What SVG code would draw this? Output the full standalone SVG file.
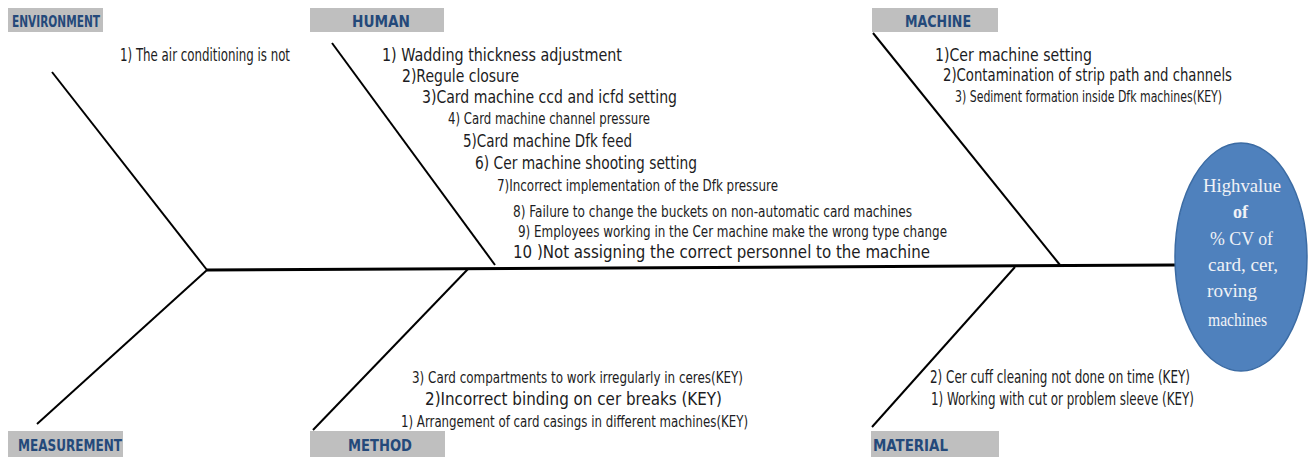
<svg xmlns="http://www.w3.org/2000/svg" width="1308" height="460" viewBox="0 0 1308 460">
<style>
.hdr{fill:#BFBFBF}
.ht{font-family:"DejaVu Sans Condensed","Liberation Sans",sans-serif;font-weight:bold;font-size:16px;fill:#24497A}
.t{font-family:"DejaVu Sans Condensed","Liberation Sans Narrow","Liberation Sans",sans-serif;fill:#1c1c22}
.bone{stroke:#000;stroke-width:2;fill:none}
.spine{stroke:#000;stroke-width:3;fill:none}
.et{font-family:"Liberation Serif","DejaVu Serif",serif;font-size:18px;fill:#F0F2F6}
</style>
<rect width="1308" height="460" fill="#fff"/>
<g id="connectors">
<path class="spine" d="M207 270 L1176 265"/>
<path class="bone" d="M52 72 L207 270"/>
<path class="bone" d="M37 424 L207 270"/>
<path class="bone" d="M332 43 L495 265"/>
<path class="bone" d="M313 430 L468 269"/>
<path class="bone" d="M873 33 L1060 265"/>
<path class="bone" d="M872 427 L1015 267"/>
</g>
<g id="environment">
<rect class="hdr" x="8" y="8" width="95" height="24"/>
<text class="ht" x="12" y="27" textLength="88" lengthAdjust="spacingAndGlyphs">ENVIRONMENT</text>
<text class="t" x="120" y="61" font-size="17" textLength="170" lengthAdjust="spacingAndGlyphs">1) The air conditioning is not</text>
</g>
<g id="human">
<rect class="hdr" x="310" y="8" width="134" height="24"/>
<text class="ht" x="352" y="27" textLength="58" lengthAdjust="spacingAndGlyphs">HUMAN</text>
<text class="t" x="382" y="61" font-size="18" textLength="240" lengthAdjust="spacingAndGlyphs">1) Wadding  thickness adjustment</text>
<text class="t" x="402" y="82" font-size="18" textLength="117" lengthAdjust="spacingAndGlyphs">2)Regule closure</text>
<text class="t" x="422" y="103" font-size="18" textLength="255" lengthAdjust="spacingAndGlyphs">3)Card machine ccd and icfd setting</text>
<text class="t" x="448" y="124" font-size="16" textLength="202" lengthAdjust="spacingAndGlyphs">4) Card machine channel pressure</text>
<text class="t" x="463" y="147" font-size="18" textLength="169" lengthAdjust="spacingAndGlyphs">5)Card machine Dfk feed</text>
<text class="t" x="475" y="169" font-size="18" textLength="222" lengthAdjust="spacingAndGlyphs">6) Cer machine shooting setting</text>
<text class="t" x="497" y="191" font-size="16" textLength="281" lengthAdjust="spacingAndGlyphs">7)Incorrect implementation  of the Dfk pressure</text>
<text class="t" x="513" y="217" font-size="16" textLength="399" lengthAdjust="spacingAndGlyphs">8) Failure to change the buckets  on non-automatic card machines</text>
<text class="t" x="518" y="237" font-size="16" textLength="429" lengthAdjust="spacingAndGlyphs">9)  Employees working in the Cer machine make the wrong type change</text>
<text class="t" x="513" y="258" font-size="18" textLength="417" lengthAdjust="spacingAndGlyphs">10 )Not assigning  the correct personnel to the machine</text>
</g>
<g id="machine">
<rect class="hdr" x="872" y="8" width="126" height="24"/>
<text class="ht" x="905" y="27" textLength="66" lengthAdjust="spacingAndGlyphs">MACHINE</text>
<text class="t" x="935" y="61" font-size="18" textLength="157" lengthAdjust="spacingAndGlyphs">1)Cer machine  setting</text>
<text class="t" x="943" y="81" font-size="17" textLength="289" lengthAdjust="spacingAndGlyphs">2)Contamination of strip path and channels</text>
<text class="t" x="955" y="102" font-size="15" textLength="267" lengthAdjust="spacingAndGlyphs">3) Sediment formation  inside Dfk machines(KEY)</text>
</g>
<g id="measurement">
<rect class="hdr" x="8" y="431" width="115" height="26"/>
<text class="ht" x="18" y="451" textLength="104" lengthAdjust="spacingAndGlyphs">MEASUREMENT</text>
</g>
<g id="method">
<rect class="hdr" x="310" y="431" width="135" height="26"/>
<text class="ht" x="348" y="451" textLength="64" lengthAdjust="spacingAndGlyphs">METHOD</text>
<text class="t" x="412" y="383" font-size="16" textLength="331" lengthAdjust="spacingAndGlyphs">3) Card compartments  to work irregularly in ceres(KEY)</text>
<text class="t" x="425" y="405" font-size="17" textLength="297" lengthAdjust="spacingAndGlyphs">2)Incorrect  binding  on cer breaks  (KEY)</text>
<text class="t" x="401" y="427" font-size="16" textLength="347" lengthAdjust="spacingAndGlyphs">1) Arrangement  of card casings in different machines(KEY)</text>
</g>
<g id="material">
<rect class="hdr" x="871" y="431" width="128" height="26"/>
<text class="ht" x="873" y="451" textLength="75" lengthAdjust="spacingAndGlyphs">MATERIAL</text>
<text class="t" x="930" y="383" font-size="17" textLength="260" lengthAdjust="spacingAndGlyphs">2) Cer cuff cleaning not done on time  (KEY)</text>
<text class="t" x="931" y="405" font-size="17" textLength="263" lengthAdjust="spacingAndGlyphs">1) Working with cut or problem sleeve  (KEY)</text>
</g>
<g id="effect">
<ellipse cx="1241" cy="257" rx="66" ry="114" fill="#4F81BD" stroke="#3B6BA3" stroke-width="1.5"/>
<text class="et" x="1203" y="192" textLength="78" lengthAdjust="spacingAndGlyphs">Highvalue</text>
<text class="et" x="1233" y="218" font-weight="bold">of</text>
<text class="et" x="1210" y="245" textLength="63" lengthAdjust="spacingAndGlyphs">% CV of</text>
<text class="et" x="1208" y="271" textLength="70" lengthAdjust="spacingAndGlyphs">card, cer,</text>
<text class="et" x="1207" y="297" textLength="50" lengthAdjust="spacingAndGlyphs">roving</text>
<text class="et" x="1208" y="326" textLength="59" lengthAdjust="spacingAndGlyphs">machines</text>
</g>
</svg>
